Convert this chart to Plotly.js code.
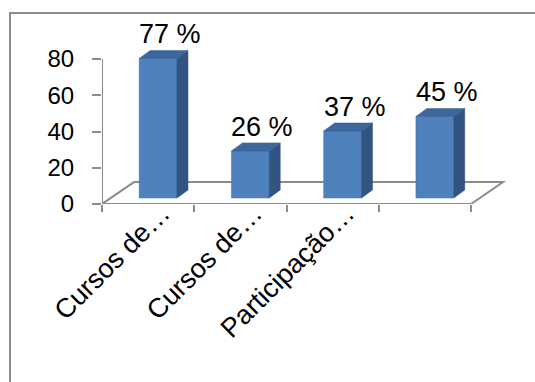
<!DOCTYPE html>
<html>
<head>
<meta charset="utf-8">
<script src="https://cdn.plot.ly/plotly-3.0.1.min.js"></script>
<style>
  html, body { margin: 0; padding: 0; width: 535px; height: 382px; overflow: hidden; background: #fff; }
  #frame { position: absolute; left: 9px; top: 12px; width: 600px; height: 450px;
           border-left: 2px solid #8c8c8c; border-top: 2px solid #8c8c8c; }
  #chart { position: absolute; left: 0; top: 0; width: 535px; height: 382px; }
</style>
</head>
<body>
<div id="frame"></div>
<div id="chart"></div>
<script>
// ---- data ----
const categories = ["Cursos de\u2026", "Cursos de\u2026", "Participa\u00e7\u00e3o\u2026", ""];
const values = [77, 26, 37, 45];
const yTicks = [0, 20, 40, 60, 80];

// ---- 3D look parameters (in axis units) ----
const BAR_W = 0.41;      // bar width (category units)
const BAR_DX = 0.108;    // bar shift to the right inside the floor
const BASE = 3.3;        // bar base lifted above the front edge
const DEPTH_X = 0.119;   // bar depth, horizontal
const DEPTH_Y = 4.4;     // bar depth, vertical
const FLOOR_DX = 0.347;  // floor depth
const FLOOR_DY = 12.1;
const LBL_SHIFT = 0.15;  // category label offset

const idx = categories.map((_, i) => i);
const n = categories.length;
const barX = idx.map(i => i + BAR_DX);

// side faces and top faces built from the values
const sideX = [], sideY = [], topX = [], topY = [];
idx.forEach(i => {
  const xl = barX[i] - BAR_W / 2, xr = barX[i] + BAR_W / 2;
  const y0 = BASE, y1 = BASE + values[i];
  sideX.push(xr, xr, xr + DEPTH_X, xr + DEPTH_X, xr, null);
  sideY.push(y0, y1, y1 + DEPTH_Y, y0 + DEPTH_Y, y0, null);
  topX.push(xl, xr, xr + DEPTH_X, xl + DEPTH_X, xl, null);
  topY.push(y1, y1, y1 + DEPTH_Y, y1 + DEPTH_Y, y1, null);
});

const traces = [
  {
    type: 'bar', x: barX, y: values, base: BASE, width: BAR_W,
    marker: { color: '#4F81BD', line: { color: '#4673AA', width: 0.5 } },
    hoverinfo: 'skip', showlegend: false
  },
  {
    type: 'scatter', mode: 'lines', x: sideX, y: sideY, fill: 'toself',
    fillcolor: '#325481', line: { color: '#2E4D76', width: 0.5 },
    hoverinfo: 'skip', showlegend: false
  },
  {
    type: 'scatter', mode: 'lines', x: topX, y: topY, fill: 'toself',
    fillcolor: '#3C679C', line: { color: '#385F90', width: 0.5 },
    hoverinfo: 'skip', showlegend: false
  },
  {
    type: 'scatter', mode: 'markers', x: idx, y: values.map(() => 0),
    xaxis: 'x2', marker: { opacity: 0 }, hoverinfo: 'skip', showlegend: false
  }
];

const xMin = -0.5, xMax = -0.5 + 408 / 92.25;
const yMax = 174 / 1.8125;
const axisGray = '#8C8C8C';
const FONT = 'Liberation Sans, Arial, sans-serif';

const shapes = [
  { type: 'line', xref: 'x', yref: 'y', x0: -0.5, x1: -0.5, y0: 0, y1: yTicks[yTicks.length - 1],
    line: { color: axisGray, width: 2 }, layer: 'below' },
  { type: 'path', xref: 'x', yref: 'y', layer: 'below',
    path: `M ${-0.5} 0 L ${n - 0.5} 0 L ${n - 0.5 + FLOOR_DX} ${FLOOR_DY} L ${-0.5 + FLOOR_DX} ${FLOOR_DY} Z`,
    line: { color: axisGray, width: 2 } }
];

const annotations = idx.map(i => ({
  x: barX[i] + 0.13, y: BASE + values[i] + DEPTH_Y,
  xref: 'x', yref: 'y', xanchor: 'center', yanchor: 'bottom', yshift: -1,
  text: values[i] + ' %', showarrow: false,
  font: { family: FONT, size: 27, color: '#000' }
}));

const layout = {
  width: 535, height: 382,
  margin: { l: 102, r: 25, t: 30, b: 178 },
  paper_bgcolor: 'rgba(0,0,0,0)', plot_bgcolor: 'rgba(0,0,0,0)',
  font: { family: FONT, color: '#000' },
  xaxis: {
    range: [xMin, xMax], showgrid: false, zeroline: false, showline: false,
    tickmode: 'array', tickvals: [-0.5, 0.5, 1.5, 2.5, 3.5],
    ticks: 'outside', ticklen: 7, tickwidth: 2, tickcolor: axisGray,
    showticklabels: false, fixedrange: true
  },
  xaxis2: {
    overlaying: 'x', anchor: 'y', side: 'bottom',
    range: [xMin, xMax], showgrid: false, zeroline: false, showline: false,
    tickmode: 'array', tickvals: idx.map(i => i + LBL_SHIFT), ticktext: categories,
    ticks: '', tickangle: -45, ticklabelstandoff: -13,
    tickfont: { size: 27, color: '#000', family: FONT }
  },
  yaxis: {
    range: [0, yMax], showgrid: false, zeroline: false, showline: false,
    tickmode: 'array', tickvals: yTicks,
    ticks: 'outside', ticklen: 9, tickwidth: 2, tickcolor: axisGray,
    ticklabelstandoff: 13,
    tickfont: { size: 24, color: '#000', family: FONT }
  },
  shapes: shapes,
  annotations: annotations,
  showlegend: false
};

Plotly.newPlot('chart', traces, layout, { displayModeBar: false, staticPlot: true });
</script>
</body>
</html>
